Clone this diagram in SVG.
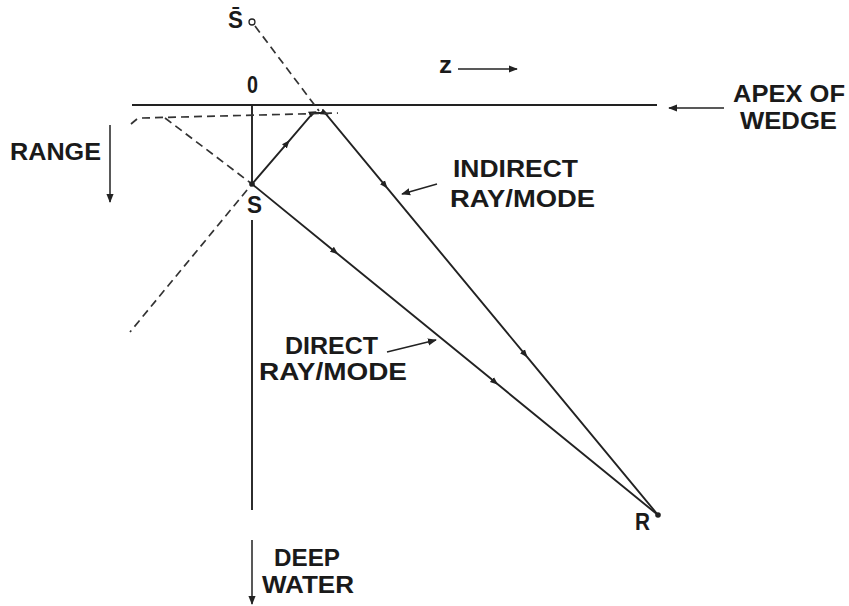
<svg xmlns="http://www.w3.org/2000/svg" width="849" height="606" viewBox="0 0 849 606">
<defs>
<style>
.t{font-family:"Liberation Sans",Arial,sans-serif;font-weight:bold;font-size:23px;fill:#1a1a1a}
.ln{stroke:#222;stroke-width:1.9;fill:none}
.dl{stroke:#333;stroke-width:1.7;fill:none;stroke-dasharray:8 5}
.th{stroke:#222;stroke-width:1.5;fill:none}
</style>
<marker id="ah" viewBox="0 0 10 10" refX="9" refY="5" markerWidth="9" markerHeight="9" markerUnits="userSpaceOnUse" orient="auto">
<path d="M0,1 L10,5 L0,9 Z" fill="#222"/>
</marker>
<marker id="mid" viewBox="0 0 10 10" refX="5" refY="5" markerWidth="8" markerHeight="8" markerUnits="userSpaceOnUse" orient="auto">
<path d="M0,1 L10,5 L0,9 Z" fill="#222"/>
</marker>
</defs>
<rect width="849" height="606" fill="#fff"/>

<g id="connectors">
<line class="ln" x1="132" y1="105" x2="657" y2="105"/>
<line class="ln" x1="252" y1="105" x2="252" y2="184"/>
<line class="ln" x1="252" y1="220" x2="252" y2="510"/>
<line class="th" x1="252" y1="540" x2="252" y2="604" marker-end="url(#ah)"/>
<path class="ln" d="M252,184 L287,143.3 L313,113 L325,113 L385,185.4 L525,354.4 L658,515" marker-mid="url(#mid)"/>
<path class="ln" d="M252,184 L335,251.7 L495,382.1 L658,515" marker-mid="url(#mid)"/>
<line class="dl" x1="255" y1="26" x2="319" y2="111"/>
<path class="dl" d="M131,124 L137,119"/>
<line class="dl" x1="142" y1="118" x2="338" y2="113"/>
<path class="dl" d="M165,118 L252,184 L130,332"/>
<line class="th" x1="110" y1="125" x2="110" y2="202" marker-end="url(#ah)"/>
<line class="th" x1="458" y1="69" x2="517" y2="69" marker-end="url(#ah)"/>
<line class="th" x1="724" y1="108" x2="669" y2="108" marker-end="url(#ah)"/>
<line class="th" x1="437" y1="184" x2="402" y2="194" marker-end="url(#ah)"/>
<line class="th" x1="387" y1="352" x2="436" y2="340" marker-end="url(#ah)"/>
</g>

<g id="node-sbar">
<circle cx="252" cy="22" r="3" fill="#fff" stroke="#222" stroke-width="1.3"/>
<text class="t" x="228" y="28" textLength="15" lengthAdjust="spacingAndGlyphs">S&#x0304;</text>
</g>
<g id="node-origin"><text class="t" x="247" y="93" textLength="11" lengthAdjust="spacingAndGlyphs">0</text></g>
<g id="node-z"><text class="t" x="439" y="73" font-size="19" textLength="13" lengthAdjust="spacingAndGlyphs">z</text></g>
<g id="node-apex">
<text class="t" x="733" y="102" textLength="112" lengthAdjust="spacingAndGlyphs">APEX OF</text>
<text class="t" x="740" y="129" textLength="97" lengthAdjust="spacingAndGlyphs">WEDGE</text>
</g>
<g id="node-range"><text class="t" x="10" y="160" textLength="91" lengthAdjust="spacingAndGlyphs">RANGE</text></g>
<g id="node-s">
<circle cx="252" cy="184" r="2.8" fill="#222"/>
<text class="t" x="247" y="213" textLength="15" lengthAdjust="spacingAndGlyphs">S</text>
</g>
<g id="node-indirect">
<text class="t" x="453" y="177" textLength="125" lengthAdjust="spacingAndGlyphs">INDIRECT</text>
<text class="t" x="450" y="207" textLength="145" lengthAdjust="spacingAndGlyphs">RAY/MODE</text>
</g>
<g id="node-direct">
<text class="t" x="285" y="354" textLength="93" lengthAdjust="spacingAndGlyphs">DIRECT</text>
<text class="t" x="259" y="380" textLength="148" lengthAdjust="spacingAndGlyphs">RAY/MODE</text>
</g>
<g id="node-r">
<circle cx="658" cy="515" r="2.8" fill="#222"/>
<text class="t" x="635" y="530" textLength="15" lengthAdjust="spacingAndGlyphs">R</text>
</g>
<g id="node-deep">
<text class="t" x="274" y="566" textLength="66" lengthAdjust="spacingAndGlyphs">DEEP</text>
<text class="t" x="262" y="593" textLength="92" lengthAdjust="spacingAndGlyphs">WATER</text>
</g>
</svg>
